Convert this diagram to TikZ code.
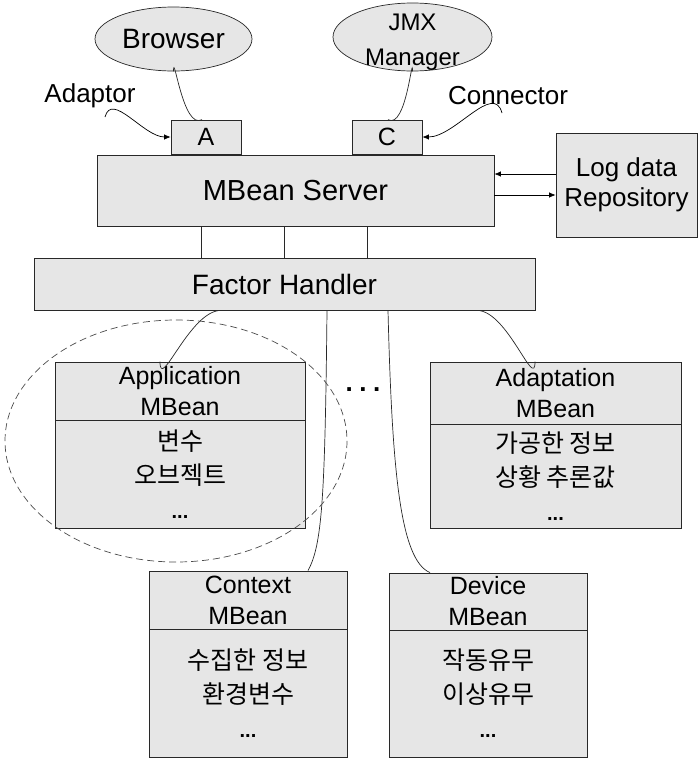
\documentclass[tikz,border=0pt]{standalone}
\usepackage{fontspec}
\setmainfont{Liberation Sans}
\newfontfamily\kr{Noto Sans CJK KR}
\usetikzlibrary{arrows.meta,shapes.geometric}
\definecolor{boxgray}{RGB}{230,230,230}
\definecolor{edge}{RGB}{40,40,40}
\newcommand{\fs}[2]{\fontsize{#1}{#2}\selectfont}
\begin{document}
\begin{tikzpicture}[x=1pt,y=-1pt,
  box/.style={draw=edge, fill=boxgray, line width=0.8pt, inner sep=0pt, align=center},
  ell/.style={ellipse, draw=edge, fill=boxgray, line width=0.7pt, inner sep=0pt},
  txt/.style={inner sep=0pt, align=center},
  conn/.style={draw=edge, line width=0.7pt},
  arr/.style={draw=black, line width=0.7pt, -{Latex[length=6.5pt,width=5.5pt]}},
  hdr/.style={box, font=\fs{25}{31}},
  body/.style={box, font=\kr\fs{25}{34}},
  dashring/.style={draw=black!70, line width=0.7pt, dash pattern=on 7pt off 4pt}
]
\useasboundingbox (0,0) rectangle (699,758);

% top ellipses
\node[ell, minimum width=157pt, minimum height=64pt, font=\fs{28}{32}] (browser) at (173.5,39) {Browser};
\node[ell, minimum width=159pt, minimum height=68pt] (jmx) at (412.5,37) {};
\node[txt, font=\fs{24}{35}] (jmxt) at (412.5,42) {JMX\\Manager};

% labels
\node[txt, font=\fs{26}{30}] (adaptor) at (90,96) {Adaptor};
\node[txt, font=\fs{26}{30}] (connector) at (508,96) {Connector};
\coordinate (adpstart) at (105,117);
\coordinate (constart) at (502,113);

% A and C
\node[box, minimum width=70pt, minimum height=34pt, font=\fs{25}{30}] (A) at (206,137) {A};
\node[box, minimum width=70pt, minimum height=34pt, font=\fs{25}{30}] (C) at (387,137) {C};

% server and log
\node[box, minimum width=397pt, minimum height=71pt, font=\fs{29}{34}] (srv) at (295.5,190.5) {MBean Server};
\node[box, minimum width=141pt, minimum height=104pt, font=\fs{26}{30}] (log) at (626.5,185) {Log data\\Repository};

% factor handler
\node[box, minimum width=501pt, minimum height=52pt, font=\fs{28}{32}] (fh) at (284.5,284) {Factor Handler};

% MBeans
\node[hdr, minimum width=250pt, minimum height=58pt] (apph) at (180,391) {Application\\MBean};
\node[body, minimum width=250pt, minimum height=108pt] (appb) at (180,474) {변수\\오브젝트\\{\rmfamily\bfseries\fs{20}{34}...}};

\node[hdr, minimum width=251pt, minimum height=62pt] (adph) at (555.5,393) {Adaptation\\MBean};
\node[body, minimum width=251pt, minimum height=104pt] (adpb) at (555.5,476) {가공한 정보\\상황 추론값\\{\rmfamily\bfseries\fs{20}{34}...}};

\node[hdr, minimum width=198pt, minimum height=58pt] (ctxh) at (248,600) {Context\\MBean};
\node[body, minimum width=198pt, minimum height=128pt] (ctxb) at (248,693) {수집한 정보\\환경변수\\{\rmfamily\bfseries\fs{20}{34}...}};

\node[hdr, minimum width=198pt, minimum height=57pt] (devh) at (488,601.5) {Device\\MBean};
\node[body, minimum width=198pt, minimum height=127pt] (devb) at (488,693.5) {작동유무\\이상유무\\{\rmfamily\bfseries\fs{20}{34}...}};

\node[txt, font=\bfseries\fs{26}{30}] (dots) at (363,390) {.\hspace{0.25em}.\hspace{0.25em}.};

% connectors top
\draw[conn] (browser.south) to[out=90,in=210] ([xshift=-4pt]A.north);
\draw[conn] (jmx.south) to[out=90,in=330] ([xshift=1pt]C.north);
\draw[arr] (adpstart) to[out=75,in=180] (A.west);
\draw[arr] (constart) to[out=105,in=0] (C.east);

% server <-> log
\draw[arr] (log.west |- 0,174) -- (srv.east |- 0,174);
\draw[arr] (srv.east |- 0,195) -- (log.west |- 0,195);

% server -- factor handler
\draw[conn] (srv.south -| 201.5,0) -- (fh.north -| 201.5,0);
\draw[conn] (srv.south -| 284.5,0) -- (fh.north -| 284.5,0);
\draw[conn] (srv.south -| 367.8,0) -- (fh.north -| 367.8,0);

% factor handler -- MBeans
\draw[conn] (fh.south -| 221,0) to[out=180,in=-90] (apph.north -| 160,0);
\draw[conn] (fh.south -| 477,0) to[out=0,in=-90] (adph.north -| 535,0);
\draw[conn] (fh.south -| 327,0) .. controls (325,500) and (322,545) .. (ctxh.north -| 308,0);
\draw[conn] (fh.south -| 388,0) .. controls (392,470) and (400,560) .. (devh.north -| 430,0);

% dashed grouping ellipse
\draw[dashring] (176,441) ellipse [x radius=171, y radius=121];
\end{tikzpicture}
\end{document}
